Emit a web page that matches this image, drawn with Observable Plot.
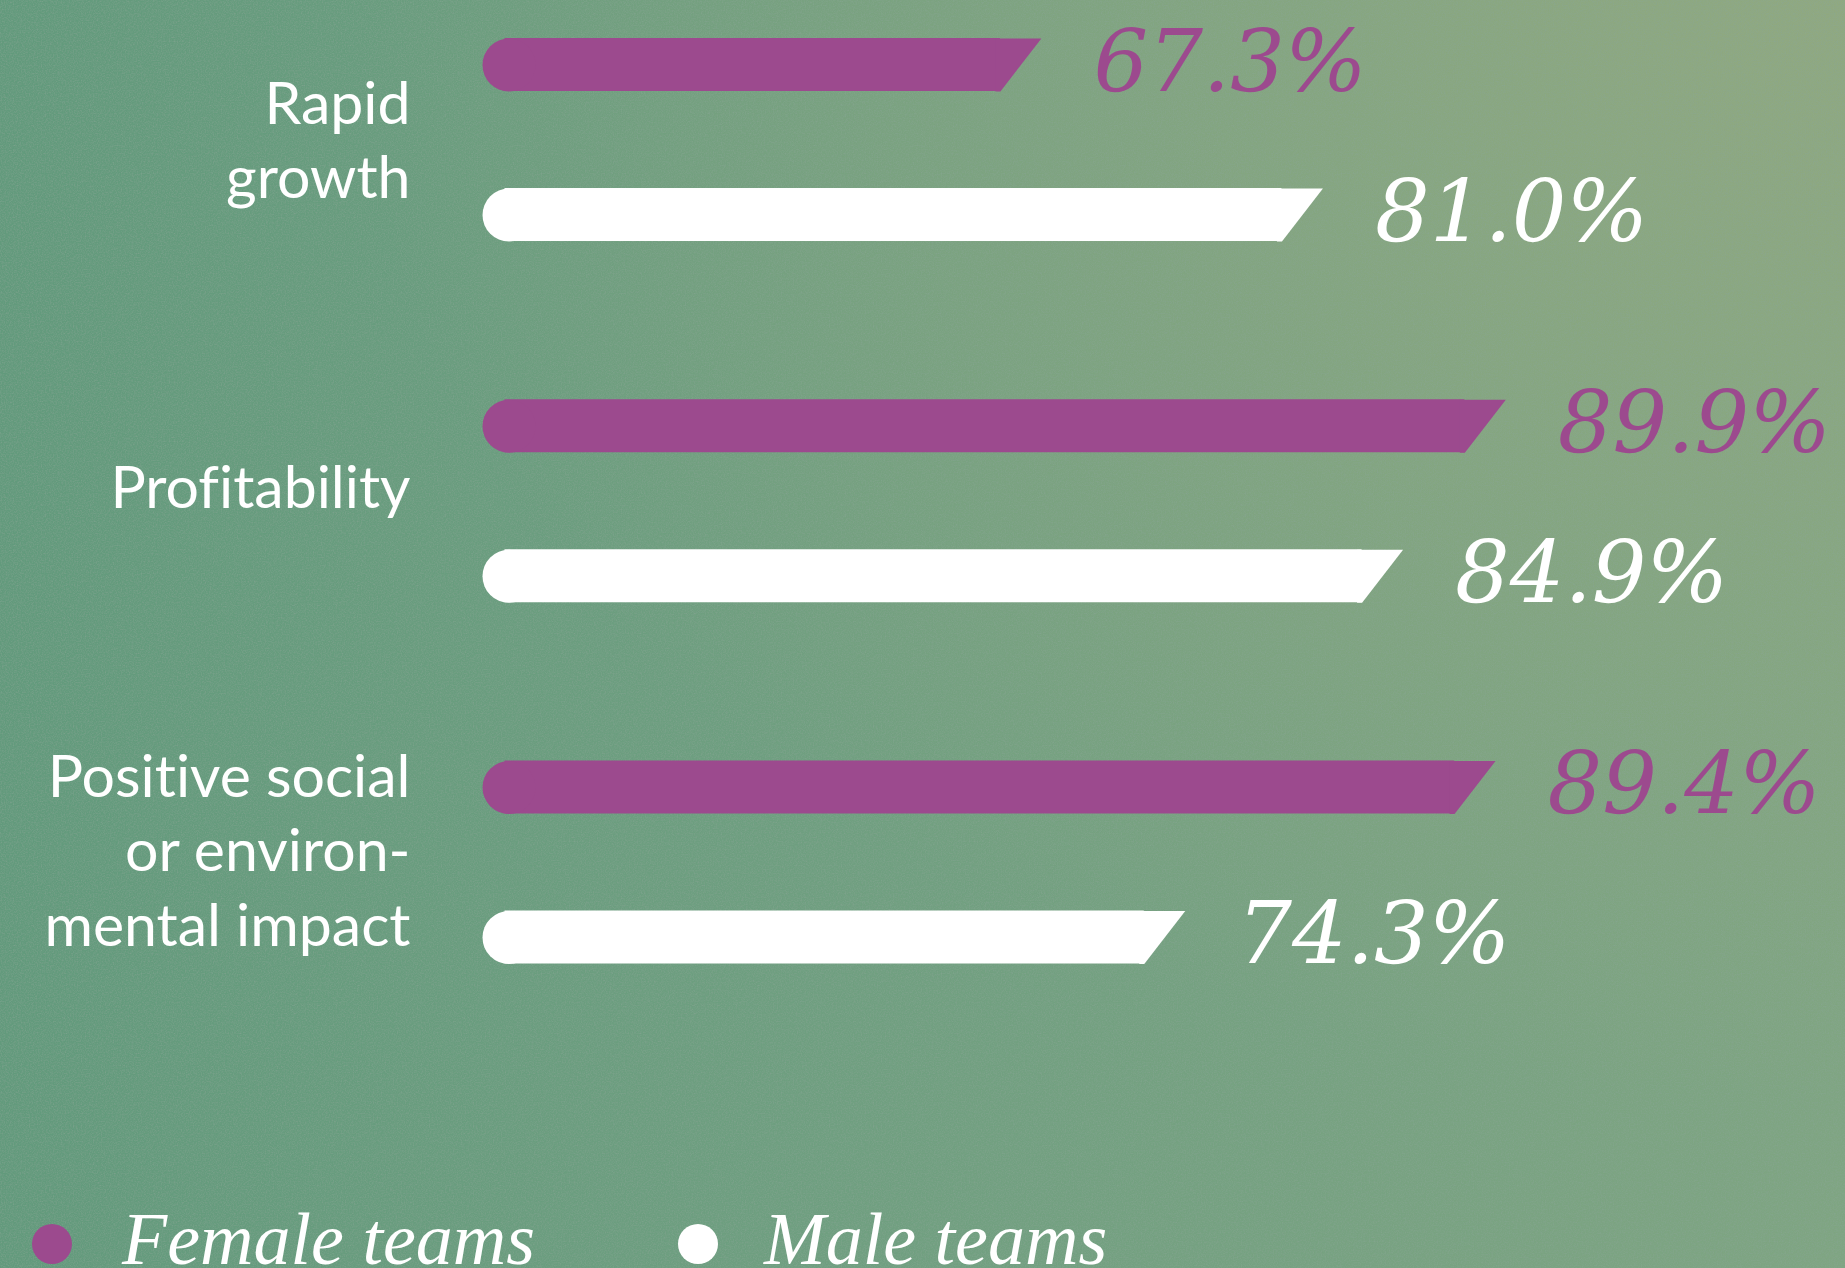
<!DOCTYPE html>
<html>
<head>
<meta charset="utf-8">
<script src="https://cdn.jsdelivr.net/npm/d3@7"></script>
<script src="https://cdn.jsdelivr.net/npm/@observablehq/plot@0.6"></script>
<style>
  html, body { margin: 0; padding: 0; width: 1845px; height: 1268px; overflow: hidden; }
  body {
    background-color: #729d80;
    background-image:
      url("data:image/svg+xml;utf8,<svg xmlns='http://www.w3.org/2000/svg' width='400' height='400'><filter id='n'><feTurbulence type='fractalNoise' baseFrequency='0.75' numOctaves='2' stitchTiles='stitch'/><feColorMatrix type='matrix' values='0 0 0 0 0.25  0 0 0 0 0.38  0 0 0 0 0.3  0 0 0 1.1 -0.42'/></filter><rect width='100%' height='100%' filter='url(%23n)'/></svg>"),
      radial-gradient(ellipse 1500px 1100px at 100% 0%, rgba(150,170,128,0.75) 0%, rgba(150,170,128,0) 100%),
      linear-gradient(to right, #629a7c 0%, #6f9f80 45%, #7fa582 100%);
  }
  #chart svg { display: block; background: transparent; }
  #chart svg text { font-variant-ligatures: none; font-feature-settings: "liga" 0, "dlig" 0; }
  #legend { position: relative; height: 88px; width: 1845px; }
  #legend .dot { position: absolute; width: 40px; height: 40px; border-radius: 50%; top: 44px; }
  #legend .lbl { position: absolute; top: 22px; font-family: "Liberation Serif", serif; font-style: italic;
                 font-size: 74px; line-height: 74px; color: #ffffff; white-space: nowrap; }
</style>
</head>
<body>
<div id="chart"></div>
<div id="legend"></div>
<script>
// ---- data ----
const categories = ["Rapid growth", "Profitability", "Positive social or environmental impact"];
const categoryLabels = ["Rapid\ngrowth", "Profitability", "Positive social\nor environ-\nmental impact"];
const teams = ["Female teams", "Male teams"];
const femaleValues = [67.3, 89.9, 89.4];
const maleValues = [81.0, 84.9, 74.3];
const teamColors = ["#9c4a8e", "#ffffff"];

// ---- layout / style constants ----
const BASE = 41.1;          // where the bars start on the x scale
const HALF = 26.5;          // half bar thickness (px)
const SLANT = 20.5;         // half horizontal extent of slanted bar end (px)
const H = 1180;
const labelDy = [-3, -17, -15];

const rows = categories.flatMap((c, i) => [
  {category: c, team: teams[0], value: femaleValues[i]},
  {category: c, team: teams[1], value: maleValues[i]}
]);
const labelRows = categories.map((c, i) => ({category: c, label: categoryLabels[i]}));

// slanted right end of each bar, drawn as a custom symbol centred on the value
const slantEnd = {
  draw(ctx) {
    ctx.moveTo(-SLANT - 5, -HALF);
    ctx.lineTo(SLANT, -HALF);
    ctx.lineTo(-SLANT, HALF);
    ctx.lineTo(-SLANT - 5, HALF);
    ctx.closePath();
  }
};

const labelMarks = labelRows.map((d, i) =>
  Plot.text([d], {
    fy: "category", text: "label", frameAnchor: "left", dx: 410, dy: labelDy[i],
    textAnchor: "end", lineAnchor: "middle", lineHeight: 1.27,
    fontSize: 59, fontFamily: "Lato, 'Noto Sans', sans-serif", fill: "#ffffff"
  })
);

const chart = Plot.plot({
  width: 1845,
  height: H,
  marginTop: 38,
  marginBottom: H - 963.5,
  marginLeft: 0,
  marginRight: 0,
  style: {background: "transparent", overflow: "visible"},
  x: {domain: [BASE, 100], range: [482, 482 + (100 - BASE) * 20.55], axis: null},
  fy: {domain: categories, axis: null, paddingInner: 0.438, paddingOuter: 0, round: false},
  y: {domain: teams, axis: null, paddingInner: 0.6467, paddingOuter: 0, round: false},
  color: {domain: teams, range: teamColors},
  marks: [
    Plot.barX(rows, {fy: "category", y: "team", x1: BASE, x2: "value", fill: "team",
                     insetLeft: HALF - 4, insetRight: SLANT}),
    Plot.dot(rows, {fy: "category", y: "team", x: BASE, dx: HALF, r: HALF, fill: "team", stroke: null}),
    Plot.dot(rows, {fy: "category", y: "team", x: "value", symbol: slantEnd, fill: "team", stroke: null}),
    Plot.text(rows, {
      fy: "category", y: "team", x: "value",
      text: d => d.value.toFixed(1) + "%",
      fill: "team", textAnchor: "start", lineAnchor: "bottom",
      dx: SLANT + 52, dy: HALF - 1,
      fontSize: 86, fontFamily: "'DejaVu Serif', serif", fontStyle: "italic"
    }),
    ...labelMarks
  ]
});
document.getElementById("chart").appendChild(chart);

// ---- legend ----
const legend = document.getElementById("legend");
const legendPos = [{dot: 32, text: 122}, {dot: 678, text: 764}];
teams.forEach((t, i) => {
  const dot = document.createElement("span");
  dot.className = "dot";
  dot.style.left = legendPos[i].dot + "px";
  dot.style.background = teamColors[i];
  legend.appendChild(dot);
  const lbl = document.createElement("span");
  lbl.className = "lbl";
  lbl.style.left = legendPos[i].text + "px";
  lbl.textContent = t;
  legend.appendChild(lbl);
});
</script>
</body>
</html>
